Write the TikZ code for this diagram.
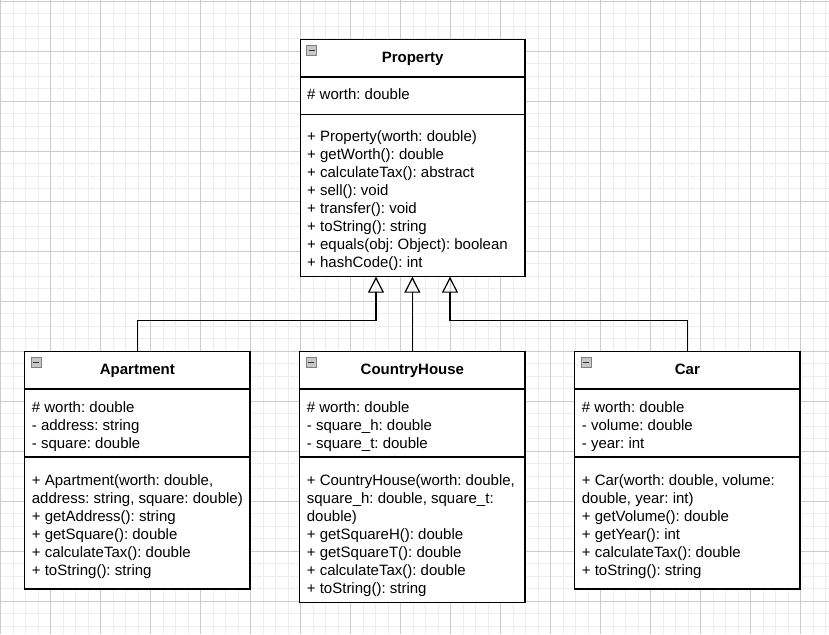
\documentclass[tikz,border=0pt]{standalone}
\usepackage{fontspec}
\setmainfont{Liberation Sans}
\usetikzlibrary{arrows.meta}
\newcommand{\clsicon}[2]{%
  \draw[iconbox] (#1+6.5,#2+6) rectangle (#1+16.5,#2+16);
  \draw[iconbar] (#1+8.5,#2+11) -- (#1+14.5,#2+11);}
\newcommand{\clslines}[4]{%
  \foreach \t [count=\i from 0] in {#4} {
    \node[txt, name=#1\i] at (#2, #3+18*\i) {\t};
  }}
\begin{document}
\begin{tikzpicture}[x=1pt,y=-1pt,
  box/.style={draw=black, line width=1.2pt, fill=white, rectangle, inner sep=0pt, outer sep=0pt, anchor=north west},
  sepline/.style={draw=black, line width=1.2pt},
  txt/.style={anchor=base west, inner sep=0pt, font=\fontsize{15}{18}\selectfont\frenchspacing},
  ttl/.style={anchor=base, inner sep=0pt, font=\fontsize{15}{18}\selectfont\bfseries},
  inh/.style={draw=black, line width=1.2pt, -{Triangle[open, length=16pt, width=16pt]}},
  gmin/.style={draw=black!7, line width=0.8pt},
  gmaj/.style={draw=black!20, line width=0.9pt},
  iconbox/.style={draw=black!50, fill=black!22, line width=0.8pt},
  iconbar/.style={draw=black!80, line width=1.4pt}]
\useasboundingbox (0,0) rectangle (829,634);
\fill[white] (0,0) rectangle (829,634);
% grid
\foreach \x in {0.5,13,...,829} \draw[gmin] (\x,0) -- (\x,634);
\foreach \y in {1,13.5,...,634} \draw[gmin] (0,\y) -- (829,\y);
\foreach \x in {0.5,50.5,...,829} \draw[gmaj] (\x,0) -- (\x,634);
\foreach \y in {1,51,...,634} \draw[gmaj] (0,\y) -- (829,\y);

% ---------- Property ----------
\node[box, minimum width=224.7pt, minimum height=237pt] (prop) at (300.3,39.7) {};
\draw[sepline] (300.3,77) -- (525,77);
\draw[sepline] (300.3,114.3) -- (525,114.3);
\clsicon{300.3}{39.7}
\node[ttl] (propT) at (412.6,62.5) {Property};
\clslines{propA}{307}{99}{{\# worth: double}}
\clslines{propM}{307}{141}{{+ Property(worth: double)},{+ getWorth(): double},{+ calculateTax(): abstract},{+ sell(): void},{+ transfer(): void},{+ toString(): string},{+ equals(obj: Object): boolean},{+ hashCode(): int}}

% ---------- Apartment ----------
\node[box, minimum width=225.3pt, minimum height=237.3pt] (apt) at (24.7,351.7) {};
\draw[sepline] (24.7,389) -- (250,389);
\draw[sepline] (24.7,457) -- (250,457);
\clsicon{24.7}{351.7}
\node[ttl] (aptT) at (137.35,374.5) {Apartment};
\clslines{aptA}{31.7}{412}{{\# worth: double},{- address: string},{- square: double}}
\clslines{aptM}{31.7}{485}{{+ Apartment(worth: double,},{address: string, square: double)},{+ getAddress(): string},{+ getSquare(): double},{+ calculateTax(): double},{+ toString(): string}}

% ---------- CountryHouse ----------
\node[box, minimum width=225.3pt, minimum height=250.6pt] (ch) at (299.7,351.7) {};
\draw[sepline] (299.7,389) -- (525,389);
\draw[sepline] (299.7,457) -- (525,457);
\clsicon{299.7}{351.7}
\node[ttl] (chT) at (412.35,374.5) {CountryHouse};
\clslines{chA}{306.7}{412}{{\# worth: double},{- square\_h: double},{- square\_t: double}}
\clslines{chM}{306.7}{485}{{+ CountryHouse(worth: double,},{square\_h: double, square\_t:},{double)},{+ getSquareH(): double},{+ getSquareT(): double},{+ calculateTax(): double},{+ toString(): string}}

% ---------- Car ----------
\node[box, minimum width=225.3pt, minimum height=237.3pt] (car) at (574.7,351.7) {};
\draw[sepline] (574.7,389) -- (800,389);
\draw[sepline] (574.7,457) -- (800,457);
\clsicon{574.7}{351.7}
\node[ttl] (carT) at (687.35,374.5) {Car};
\clslines{carA}{581.7}{412}{{\# worth: double},{- volume: double},{- year: int}}
\clslines{carM}{581.7}{485}{{+ Car(worth: double, volume:},{double, year: int)},{+ getVolume(): double},{+ getYear(): int},{+ calculateTax(): double},{+ toString(): string}}

% ---------- inheritance ----------
\coordinate (elbow) at (0,320.7);
\coordinate (tL) at (376,276.7);
\coordinate (tR) at (450,276.7);
\draw[inh] (apt.north) -- (apt.north |- elbow) -| (tL);
\draw[inh] (ch.north) -- (ch.north |- prop.south);
\draw[inh] (car.north) -- (car.north |- elbow) -| (tR);
\end{tikzpicture}
\end{document}
